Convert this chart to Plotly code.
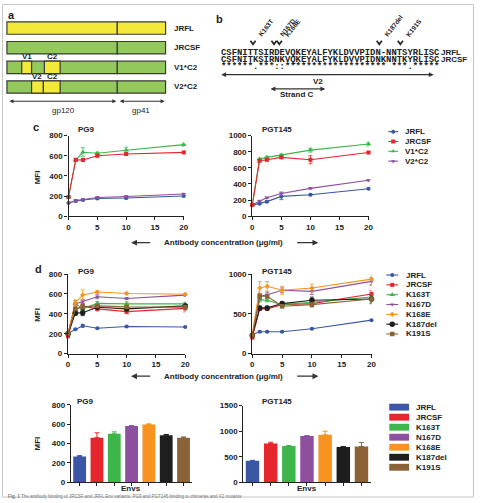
import plotly.graph_objects as go

W, H = 480, 503
FONT = "Liberation Sans"
MONO = "Liberation Mono"

def px(x):
    return x / W

def py(y):
    return 1 - y / H

# ---------------- data ----------------
conc = [0, 1.25, 2.5, 5, 10, 20]

# panel c : PG9
c_pg9_jrfl = [130, 150, 160, 175, 180, 200]
c_pg9_jrcsf = [190, 560, 558, 600, 617, 633]
c_pg9_v1c2 = [190, 555, 635, 625, 655, 710]
c_pg9_v2c2 = [130, 155, 165, 185, 195, 220]
c_pg9_err_jrfl = [0, 8, 8, 8, 10, 8]
c_pg9_err_jrcsf = [0, 8, 10, 10, 10, 8]
c_pg9_err_v1c2 = [0, 10, 45, 10, 30, 15]
c_pg9_err_v2c2 = [0, 8, 8, 10, 10, 8]

# panel c : PGT145
c_pgt_jrfl = [137, 155, 180, 245, 265, 340]
c_pgt_jrcsf = [140, 687, 700, 730, 700, 790]
c_pgt_v1c2 = [140, 710, 730, 760, 820, 895]
c_pgt_v2c2 = [140, 187, 228, 280, 345, 445]
c_pgt_err_jrfl = [0, 10, 10, 40, 10, 8]
c_pgt_err_jrcsf = [0, 15, 12, 15, 50, 10]
c_pgt_err_v1c2 = [0, 10, 8, 10, 25, 25]
c_pgt_err_v2c2 = [0, 10, 10, 20, 10, 8]

# panel d : PG9
d_pg9_jrfl = [205, 244, 280, 255, 273, 268]
d_pg9_jrcsf = [175, 440, 478, 450, 422, 455]
d_pg9_k163t = [200, 505, 450, 505, 500, 500]
d_pg9_n167d = [200, 500, 525, 572, 555, 588]
d_pg9_k168e = [200, 510, 590, 620, 605, 597]
d_pg9_k187del = [200, 407, 412, 467, 450, 480]
d_pg9_k191s = [200, 450, 470, 480, 470, 468]
d_pg9_err_jrfl = [0, 5, 15, 5, 5, 5]
d_pg9_err_jrcsf = [0, 20, 20, 20, 20, 35]
d_pg9_err_k163t = [0, 30, 60, 20, 20, 15]
d_pg9_err_n167d = [0, 15, 20, 20, 10, 10]
d_pg9_err_k168e = [0, 30, 50, 10, 10, 10]
d_pg9_err_k187del = [0, 20, 30, 10, 15, 15]
d_pg9_err_k191s = [0, 15, 15, 10, 10, 10]

# panel d : PGT145
d_pgt_jrfl = [241, 275, 275, 275, 312, 421]
d_pgt_jrcsf = [200, 562, 562, 616, 629, 750]
d_pgt_k163t = [230, 679, 671, 616, 646, 712]
d_pgt_n167d = [230, 721, 741, 796, 783, 908]
d_pgt_k168e = [250, 825, 846, 796, 825, 937]
d_pgt_k187del = [230, 575, 575, 629, 671, 687]
d_pgt_k191s = [230, 721, 721, 596, 616, 687]
d_pgt_err_jrfl = [0, 8, 8, 8, 8, 8]
d_pgt_err_jrcsf = [0, 20, 20, 30, 30, 40]
d_pgt_err_k163t = [0, 30, 20, 20, 30, 40]
d_pgt_err_n167d = [0, 30, 30, 30, 40, 50]
d_pgt_err_k168e = [0, 80, 60, 50, 50, 70]
d_pgt_err_k187del = [0, 20, 20, 20, 40, 50]
d_pgt_err_k191s = [0, 30, 20, 20, 30, 60]

# bar panels
envs = ["JRFL", "JRCSF", "K163T", "N167D", "K168E", "K187del", "K191S"]
bar_pg9 = [265, 460, 500, 580, 595, 485, 458]
bar_pg9_err = [10, 50, 20, 5, 8, 8, 10]
bar_pgt = [420, 760, 710, 905, 930, 690, 700]
bar_pgt_err = [10, 25, 8, 8, 70, 10, 80]

c_names = ["JRFL", "JRCSF", "V1*C2", "V2*C2"]
d_names = ["JRFL", "JRCSF", "K163T", "N167D", "K168E", "K187del", "K191S"]

# alignment
seq_jrfl = "CSFNITTSIRDEVQKEYALFYKLDVVPIDN-NNTSYRLISC"
seq_jrcsf = "CSFNITKSIRNKVQKEYALFYKLDVVPIDNKNNTKYRLISC"
seq_cons = "******.***::******************* ***.******"[:41]
mutations = ["K163T", "N167D", "K168E", "K187del", "K191S"]
mutation_pos = [7, 11, 12, 31, 35]

# ---------------- styles ----------------
BLUE = "#3a57a6"
RED = "#e5262c"
GREEN = "#3db54a"
PURPLE = "#8f4f9f"
ORANGE = "#f7931e"
BLACK = "#1e1e1e"
BROWN = "#8b6336"
c_colors = [BLUE, RED, GREEN, PURPLE]
c_symbols = ["circle", "square", "triangle-up", "triangle-down"]
d_colors = [BLUE, RED, GREEN, PURPLE, ORANGE, BLACK, BROWN]
d_symbols = ["circle", "square", "triangle-up", "triangle-down", "diamond", "circle", "square"]
d_msizes = [4, 4, 5, 4, 4, 5.5, 4.5]
YELLOW = "#f3e93a"
LGREEN = "#93c85a"

fig = go.Figure()

def add_lines(xa, ya, names, series, errs, colors, symbols, sizes):
    for n, s, e, c, sym, sz in zip(names, series, errs, colors, symbols, sizes):
        fig.add_trace(go.Scatter(
            x=conc, y=s, mode="lines+markers", name=n, xaxis=xa, yaxis=ya,
            line=dict(color=c, width=1.1), marker=dict(color=c, symbol=sym, size=sz),
            error_y=dict(type="data", array=e, visible=True, color=c, thickness=0.8, width=2),
            cliponaxis=False, showlegend=False))

add_lines("x", "y", ["JRFL", "V2*C2", "V1*C2", "JRCSF"],
          [c_pg9_jrfl, c_pg9_v2c2, c_pg9_v1c2, c_pg9_jrcsf],
          [c_pg9_err_jrfl, c_pg9_err_v2c2, c_pg9_err_v1c2, c_pg9_err_jrcsf],
          [BLUE, PURPLE, GREEN, RED], ["circle", "triangle-down", "triangle-up", "square"], [4, 4, 5, 4])
add_lines("x2", "y2", ["JRFL", "V2*C2", "V1*C2", "JRCSF"],
          [c_pgt_jrfl, c_pgt_v2c2, c_pgt_v1c2, c_pgt_jrcsf],
          [c_pgt_err_jrfl, c_pgt_err_v2c2, c_pgt_err_v1c2, c_pgt_err_jrcsf],
          [BLUE, PURPLE, GREEN, RED], ["circle", "triangle-down", "triangle-up", "square"], [4, 4, 5, 4])
add_lines("x3", "y3", d_names,
          [d_pg9_jrfl, d_pg9_jrcsf, d_pg9_k163t, d_pg9_n167d, d_pg9_k168e, d_pg9_k187del, d_pg9_k191s],
          [d_pg9_err_jrfl, d_pg9_err_jrcsf, d_pg9_err_k163t, d_pg9_err_n167d, d_pg9_err_k168e, d_pg9_err_k187del, d_pg9_err_k191s],
          d_colors, d_symbols, d_msizes)
add_lines("x4", "y4", d_names,
          [d_pgt_jrfl, d_pgt_jrcsf, d_pgt_k163t, d_pgt_n167d, d_pgt_k168e, d_pgt_k187del, d_pgt_k191s],
          [d_pgt_err_jrfl, d_pgt_err_jrcsf, d_pgt_err_k163t, d_pgt_err_n167d, d_pgt_err_k168e, d_pgt_err_k187del, d_pgt_err_k191s],
          d_colors, d_symbols, d_msizes)

for xa, ya, vals, errs in [("x5", "y5", bar_pg9, bar_pg9_err), ("x6", "y6", bar_pgt, bar_pgt_err)]:
    for env, v, e, c in zip(envs, vals, errs, d_colors):
        fig.add_trace(go.Bar(
            x=[env], y=[v], xaxis=xa, yaxis=ya, width=0.74, marker=dict(color=c, line=dict(width=0)),
            error_y=dict(type="data", array=[e], arrayminus=[0], symmetric=False, visible=True,
                         color=c, thickness=1, width=2.5),
            showlegend=False))

# legend traces on an overlay axis in pixel coordinates
leg_c_y = [130, 140, 150, 160]
for i, (n, c, sym) in enumerate(zip(c_names, c_colors, c_symbols)):
    fig.add_trace(go.Scatter(x=[392, 402], y=[leg_c_y[i]] * 2, mode="lines", xaxis="x7", yaxis="y7",
                             line=dict(color=c, width=1.1), showlegend=False, hoverinfo="skip"))
    fig.add_trace(go.Scatter(x=[397], y=[leg_c_y[i]], mode="markers", xaxis="x7", yaxis="y7",
                             marker=dict(color=c, symbol=sym, size=4), showlegend=False, hoverinfo="skip"))
leg_d_y = [276 + 10 * i for i in range(7)]
for i, (n, c, sym, sz) in enumerate(zip(d_names, d_colors, d_symbols, d_msizes)):
    fig.add_trace(go.Scatter(x=[390, 402], y=[leg_d_y[i]] * 2, mode="lines", xaxis="x7", yaxis="y7",
                             line=dict(color=c, width=1.1), showlegend=False, hoverinfo="skip"))
    fig.add_trace(go.Scatter(x=[396], y=[leg_d_y[i]], mode="markers", xaxis="x7", yaxis="y7",
                             marker=dict(color=c, symbol=sym, size=sz), showlegend=False, hoverinfo="skip"))

# ---------------- axes ----------------
def ax_style(**kw):
    d = dict(showline=True, linecolor="#222", linewidth=1.4, ticks="outside", ticklen=3, tickwidth=1.1,
             tickcolor="#222", showgrid=False, zeroline=False, fixedrange=True,
             tickfont=dict(size=8, color="#222", family=FONT, weight="bold"))
    d.update(kw)
    return d

def dom_x(a, b):
    return [px(a), px(b)]

def dom_y(top, bottom):
    return [py(bottom), py(top)]

layout_axes = {}
layout_axes["xaxis"] = ax_style(domain=dom_x(67.5, 184.5), range=[0, 20], tickvals=[0, 5, 10, 15, 20], anchor="y")
layout_axes["yaxis"] = ax_style(domain=dom_y(134, 216), range=[0, 800], dtick=200, anchor="x")
layout_axes["xaxis2"] = ax_style(domain=dom_x(254, 372), range=[0, 20], tickvals=[0, 5, 10, 15, 20], anchor="y2")
layout_axes["yaxis2"] = ax_style(domain=dom_y(134, 216), range=[0, 1000], dtick=200, anchor="x2")
layout_axes["xaxis3"] = ax_style(domain=dom_x(67, 186), range=[0, 20], tickvals=[0, 5, 10, 15, 20], anchor="y3")
layout_axes["yaxis3"] = ax_style(domain=dom_y(275, 356), range=[0, 800], dtick=200, anchor="x3")
layout_axes["xaxis4"] = ax_style(domain=dom_x(254, 375), range=[0, 20], tickvals=[0, 5, 10, 15, 20], anchor="y4")
layout_axes["yaxis4"] = ax_style(domain=dom_y(275, 356), range=[0, 1000], dtick=500, anchor="x4")
layout_axes["xaxis5"] = ax_style(domain=dom_x(70, 193), range=[-0.5, 6.5], showticklabels=False, anchor="y5",
                                 type="category", categoryorder="array", categoryarray=envs)
layout_axes["yaxis5"] = ax_style(domain=dom_y(408, 487), range=[0, 800], dtick=200, anchor="x5")
layout_axes["xaxis6"] = ax_style(domain=dom_x(245, 374), range=[-0.5, 6.5], showticklabels=False, anchor="y6",
                                 type="category", categoryorder="array", categoryarray=envs)
layout_axes["yaxis6"] = ax_style(domain=dom_y(409, 487), range=[0, 1500], dtick=500, anchor="x6")
layout_axes["xaxis7"] = dict(domain=[0, 1], range=[0, W], visible=False, fixedrange=True, anchor="y7")
layout_axes["yaxis7"] = dict(domain=[0, 1], range=[H, 0], visible=False, fixedrange=True, anchor="x7")

# ---------------- annotations & shapes ----------------
ann = []
shapes = []

def text(x, y, s, size=8, anchor="left", bold=True, color="#222", family=FONT, angle=0, yanchor="middle"):
    ann.append(dict(x=px(x), y=py(y), xref="paper", yref="paper", text=s, showarrow=False,
                    xanchor=anchor, yanchor=yanchor, textangle=angle,
                    font=dict(size=size, color=color, family=family, weight="bold" if bold else "normal")))

def arrow(x0, y0, x1, y1, both=False, width=1.2, head=2, size=1.0):
    ann.append(dict(x=x1, y=y1, ax=x0, ay=y0, xref="x7", yref="y7",
                    axref="x7", ayref="y7", text="", showarrow=True, arrowhead=head,
                    startarrowhead=head, arrowside="end+start" if both else "end",
                    arrowwidth=width, arrowsize=size, startarrowsize=size, arrowcolor="#333"))

def rect(x0, y0, x1, y1, fill):
    shapes.append(dict(type="rect", xref="paper", yref="paper", x0=px(x0), x1=px(x1), y0=py(y1), y1=py(y0),
                       fillcolor=fill, line=dict(color="#3a3a3a", width=1.2), layer="above"))

# frame
shapes.append(dict(type="rect", xref="paper", yref="paper", x0=px(0.5), x1=px(478.5), y0=py(502), y1=py(0.5),
                   line=dict(color="#c8c8c8", width=1), fillcolor="rgba(0,0,0,0)"))

# panel a
text(4, 11, "a", size=11)
rows = [24.5, 44.5, 64.5, 84.5]
rh = 6.3
XL, XD, XR = 5, 117, 166
rect(XL, rows[0] - rh, XD, rows[0] + rh, YELLOW)
rect(XD, rows[0] - rh, XR, rows[0] + rh, YELLOW)
for r in rows[1:]:
    rect(XL, r - rh, XD, r + rh, LGREEN)
    rect(XD, r - rh, XR, r + rh, LGREEN)
rect(20, rows[2] - rh, 30, rows[2] + rh, YELLOW)
rect(43, rows[2] - rh, 59, rows[2] + rh, YELLOW)
rect(30, rows[3] - rh, 42, rows[3] + rh, YELLOW)
rect(42, rows[3] - rh, 59, rows[3] + rh, YELLOW)
text(25, 53.5, "V1", anchor="center")
text(51, 53.5, "C2", anchor="center")
text(36, 74, "V2", anchor="center")
text(51, 74, "C2", anchor="center")
for r, n in zip(rows, c_names):
    text(173, r, n)
arrow(6, 99, 116, 99, both=True, width=1, head=2, size=0.8)
arrow(118, 99, 165, 99, both=True, width=1, head=2, size=0.8)
text(62, 108, "gp120", bold=False, anchor="center")
text(141, 108, "gp41", bold=False, anchor="center")

# panel b
text(215, 15, "b", size=11)
SX = 220
FS = 8.9
CW = 0.6 * FS
text(SX, 49.5, seq_jrfl, size=FS, family=MONO, bold=True)
text(SX, 57, seq_jrcsf, size=FS, family=MONO, bold=True)
text(SX, 64, seq_cons, size=FS, family=MONO, bold=True)
text(443, 49.5, "JRFL")
text(443, 57, "JRCSF")
arrow(221, 72, 438, 72, both=True, width=1.2, head=2, size=0.8)
text(321, 78.5, "V2", anchor="center")
arrow(271, 86.5, 328, 86.5, both=True, width=1.2, head=2, size=0.8)
text(299, 92.5, "Strand C", anchor="center")
for m, pos in zip(mutations, mutation_pos):
    cx = SX + (pos - 0.5) * CW
    shapes.append(dict(type="path", xref="paper", yref="paper",
                       path=f"M {px(cx - 2.6)} {py(37.5)} L {px(cx)} {py(41)} L {px(cx + 2.6)} {py(37.5)}",
                       line=dict(color="#222", width=1.7)))
    ann.append(dict(x=px(cx + 1.2), y=py(37), xref="paper", yref="paper", text=m, showarrow=False,
                    xanchor="left", yanchor="bottom", textangle=-52,
                    font=dict(size=6.5, color="#222", family=FONT, weight="bold")))

# panel c
text(29, 125, "c", size=11)
text(75, 128, "PG9")
text(262, 128, "PGT145")
for y, n in zip(leg_c_y, c_names):
    text(407, y, n)
text(36, 176, "MFI", angle=-90, anchor="center")
text(225, 243, "Antibody concentration (\u03bcg/ml)", anchor="center")
arrow(152, 243, 131, 243, width=1.3, head=2, size=0.9)
arrow(298, 243, 321, 243, width=1.3, head=2, size=0.9)

# panel d
text(31, 270, "d", size=11)
text(75, 272, "PG9")
text(262, 272, "PGT145")
for y, n in zip(leg_d_y, d_names):
    text(408, y, n)
text(36, 316, "MFI", angle=-90, anchor="center")
text(225, 379, "Antibody concentration (\u03bcg/ml)", anchor="center")
arrow(152, 379, 131, 379, width=1.3, head=2, size=0.9)
arrow(298, 379, 321, 379, width=1.3, head=2, size=0.9)

# bar panels
text(74, 405, "PG9")
text(262, 405, "PGT145")
text(36, 447, "MFI", angle=-90, anchor="center")
text(131, 493, "Envs", anchor="center")
text(310, 493, "Envs", anchor="center")
leg_b_y = [410.5 + 10.2 * i for i in range(7)]
for y, n, c in zip(leg_b_y, envs, d_colors):
    shapes.append(dict(type="rect", xref="paper", yref="paper", x0=px(393), x1=px(413), y0=py(y + 3.5), y1=py(y - 3.5),
                       fillcolor=c, line=dict(width=0)))
    text(418, y, n)

# caption
ann.append(dict(x=px(4), y=py(501.5), xref="paper", yref="paper", showarrow=False, xanchor="left", yanchor="middle",
                text="<b>Fig. 1</b> The antibody binding of JRCSF and JRFL Env variants: PG9 and PGT145 binding to chimeras and V2 mutants",
                font=dict(size=4.5, color="#777", family=FONT)))

fig.update_layout(
    width=W, height=H, margin=dict(l=0, r=0, t=0, b=0),
    paper_bgcolor="white", plot_bgcolor="rgba(0,0,0,0)",
    font=dict(family=FONT, size=8, color="#222"),
    barmode="overlay", showlegend=False,
    annotations=ann, shapes=shapes, **layout_axes)

fig.write_html("out.html")
